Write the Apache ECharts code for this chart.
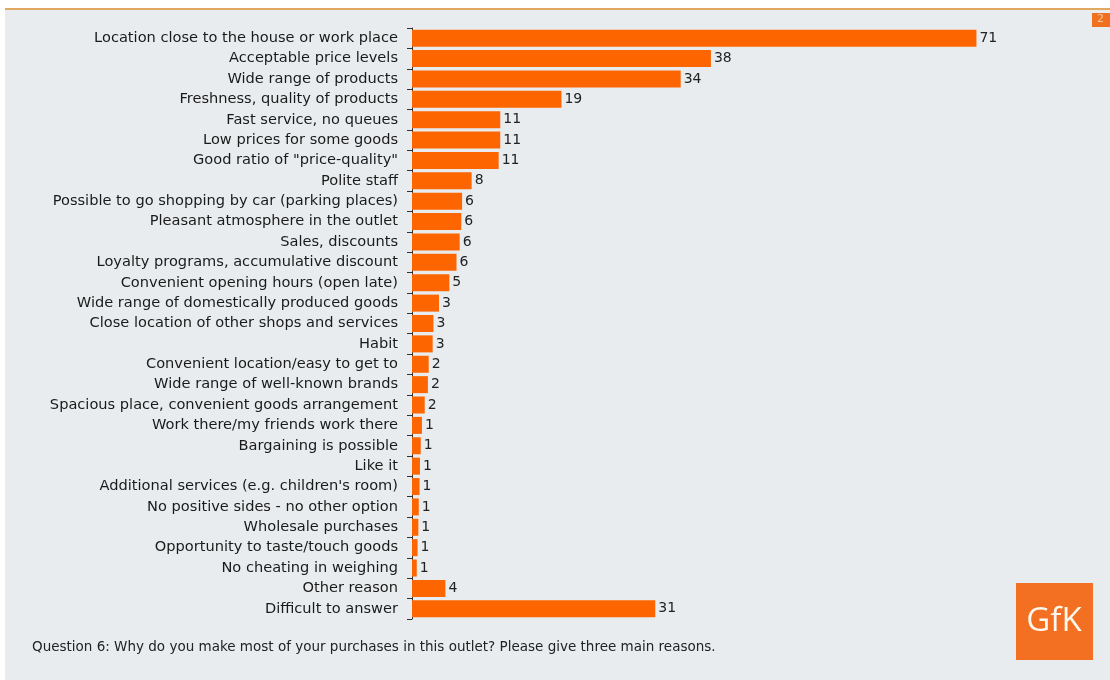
<!DOCTYPE html>
<html>
<head>
<meta charset="utf-8">
<script src="https://cdn.jsdelivr.net/npm/echarts@6/dist/echarts.min.js"></script>
<style>
  html, body { margin: 0; padding: 0; background: #fff; }
  #chart { width: 1110px; height: 680px; }
</style>
</head>
<body>
<div id="chart"></div>
<script>
// reasons, top to bottom
const reasons = [
  'Location close to the house or work place',
  'Acceptable price levels',
  'Wide range of products',
  'Freshness, quality of products',
  'Fast service, no queues',
  'Low prices for some goods',
  'Good ratio of "price-quality"',
  'Polite staff',
  'Possible to go shopping by car (parking places)',
  'Pleasant atmosphere in the outlet',
  'Sales, discounts',
  'Loyalty programs, accumulative discount',
  'Convenient opening hours (open late)',
  'Wide range of domestically produced goods',
  'Close location of other shops and services',
  'Habit',
  'Convenient location/easy to get to',
  'Wide range of well-known brands',
  'Spacious place, convenient goods arrangement',
  'Work there/my friends work there',
  'Bargaining is possible',
  'Like it',
  "Additional services (e.g. children's room)",
  'No positive sides - no other option',
  'Wholesale purchases',
  'Opportunity to taste/touch goods',
  'No cheating in weighing',
  'Other reason',
  'Difficult to answer'
]

// bar lengths (labels show them rounded)
const shares = [
  71.0, 37.6, 33.8, 18.8, 11.1, 11.1, 10.9, 7.5, 6.3, 6.2,
  6.0, 5.6, 4.7, 3.4, 2.7, 2.6, 2.1, 2.0, 1.6, 1.25,
  1.1, 1.0, 0.95, 0.85, 0.8, 0.7, 0.6, 4.2, 30.6
]

const footnote = 'Question 6: Why do you make most of your purchases in this outlet? Please give three main reasons.'

const chart = echarts.init(document.getElementById('chart'))

const option = {
  backgroundColor: '#e9ecee',
  animation: false,
  grid: {
    left: 412,
    top: 28,
    width: 636,
    height: 591
  },
  xAxis: {
    type: 'value',
    min: 0,
    max: 80,
    show: false
  },
  yAxis: {
    type: 'category',
    inverse: true,
    data: reasons,
    axisLine: { lineStyle: { color: '#333', width: 1 } },
    axisTick: { show: true, length: 5, lineStyle: { color: '#333' } },
    axisLabel: {
      color: '#1a1a1a',
      fontFamily: 'DejaVu Sans',
      fontSize: 14.6,
      margin: 14
    }
  },
  series: [{
    type: 'bar',
    data: shares,
    barWidth: 17,
    itemStyle: { color: '#fc6500' },
    label: {
      show: true,
      position: 'right',
      distance: 3,
      color: '#222',
      fontFamily: 'DejaVu Sans',
      fontSize: 14,
      formatter: p => Math.round(p.value)
    }
  }],
  graphic: [
    // white strip and thin line at the top
    { type: 'rect', left: 0, top: 0, shape: { width: 1110, height: 8 }, style: { fill: '#fff' } },
    { type: 'rect', left: 0, top: 8, shape: { width: 1110, height: 2 }, style: { fill: '#e0a860' } },
    { type: 'rect', left: 0, top: 0, shape: { width: 5, height: 680 }, style: { fill: '#fff' } },
    // page number box
    { type: 'rect', left: 1092, top: 13, shape: { width: 18, height: 14 }, style: { fill: '#f07020' } },
    { type: 'text', left: 1097, top: 14, style: { text: '2', fill: '#f8c8a0', font: '11px DejaVu Sans' } },
    // footnote
    { type: 'text', left: 32, top: 640, style: { text: footnote, fill: '#222', font: '13.5px DejaVu Sans' } },
    // logo
    { type: 'rect', left: 1016, top: 583, shape: { width: 77, height: 77 }, style: { fill: '#f36f21' } },
    { type: 'text', x: 1054, y: 622, style: { text: 'GfK', fill: '#fff8ec', font: '33px "Open Sans"', align: 'center', verticalAlign: 'middle' } }
  ]
}

chart.setOption(option)
</script>
</body>
</html>
